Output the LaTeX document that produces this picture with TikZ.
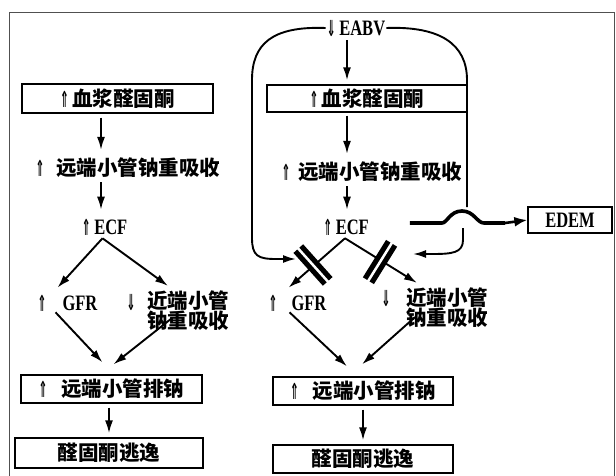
\documentclass[tikz,border=0pt]{standalone}
\usepackage{fontspec}
\setmainfont{Liberation Serif}
\newfontfamily\cjk{Noto Sans CJK SC}
\newfontfamily\symf{DejaVu Sans}
\usetikzlibrary{positioning, arrows.meta, calc}
\definecolor{framegray}{RGB}{80,80,80}
\newcommand{\upar}{\raisebox{-1pt}{\scalebox{0.62}[1.3]{\symf\bfseries\fontsize{17}{17}\selectfont ⇑}}}
\newcommand{\dnar}{\raisebox{-1pt}{\scalebox{0.62}[1.3]{\symf\bfseries\fontsize{17}{17}\selectfont ⇓}}}
\newcommand{\narrow}[1]{\scalebox{0.75}[1]{#1}}

\begin{document}
\begin{tikzpicture}[x=1pt, y=-1pt,
    lat/.style={font=\fontsize{22}{22}\selectfont\bfseries, inner sep=1pt},
    zh/.style={font=\cjk\fontsize{20.5}{20}\selectfont\bfseries, inner sep=1pt},
    box/.style={draw, line width=1.3pt, inner sep=0pt},
    arr/.style={-{Latex[length=13pt,width=8pt]}, line width=1.9pt},
    bar/.style={line width=13pt},
  ]
    \useasboundingbox (0,0) rectangle (616,476);
    \draw[framegray, line width=0.6pt] (9,476) -- (9,12) -- (614.5,12) -- (614.5,476);

    % left: no EABV loop
    \node[box, zh, minimum width=191pt, minimum height=29pt] (lald) at (117.5,98.5) {\upar\,血浆醛固酮};
    \node[zh] (lreab) at (128,168) {\upar\hspace{12pt}远端小管钠重吸收};
    \node[lat] (lecf) at (104.5,227) {\upar\,\narrow{ECF}};
    \node[lat] (lgfr) at (67.5,303) {\upar\hspace{16pt}\narrow{GFR}};
    \node[lat] (ldn) at (131,302) {\dnar};
    \node[zh, align=left, anchor=west] (lprox) at (146,311) {近端小管\\钠重吸收};
    \node[box, zh, minimum width=181pt, minimum height=28pt] (lexc) at (111.5,389) {\upar\hspace{14pt}远端小管排钠};
    \node[box, zh, minimum width=188pt, minimum height=30pt] (lesc) at (109,453) {醛固酮逃逸};
    \coordinate (lx) at (101,0);

    \draw[arr, shorten <=4pt, shorten >=7pt] (lald.south -| lx) -- (lreab.north -| lx);
    \draw[arr, shorten <=3pt, shorten >=8pt] (lreab.south -| lx) -- (lecf.north -| lx);
    \draw[arr] ($(lecf.south)+(-2,2)$) -- ($(lgfr.north)+(-10,-6)$);
    \draw[arr] ($(lecf.south)+(-2,2)$) -- ($(lprox.north west)+(22,-4)$);
    \draw[arr] ($(lgfr.south)+(-12,0)$) -- ($(lexc.north)+(-9,-12)$);
    \draw[arr] ($(lprox.south west)+(26,-14)$) -- ($(lexc.north)+(2,-10)$);
    \draw[arr, shorten <=4pt, shorten >=4pt] (lexc.south -| lesc) -- (lesc.north);

    % right: with EABV loop
    \node[lat] (eabv) at (356,28) {\dnar\,\narrow{EABV}};
    \node[box, zh, minimum width=200pt, minimum height=27pt] (rald) at (367,98.5) {\upar\,血浆醛固酮};
    \node[zh] (rreab) at (372,172) {\upar\hspace{8pt}远端小管钠重吸收};
    \node[lat] (recf) at (346,227) {\upar\,\narrow{ECF}};
    \node[lat] (rgfr) at (297.5,303) {\upar\hspace{14pt}\narrow{GFR}};
    \node[lat] (rdn) at (386,298) {\dnar};
    \node[zh, align=left, anchor=west] (rprox) at (405,308) {近端小管\\钠重吸收};
    \node[box, zh, minimum width=180pt, minimum height=28pt] (rexc) at (363,391) {\upar\hspace{14pt}远端小管排钠};
    \node[box, zh, minimum width=180pt, minimum height=28pt] (resc) at (363,459) {醛固酮逃逸};
    \node[box, lat, minimum width=84pt, minimum height=26pt] (edem) at (570,220) {\narrow{EDEM}};
    \coordinate (rx) at (347,0);

    \draw[arr, shorten <=3pt, shorten >=4pt] (eabv.south -| rx) -- (rald.north -| rx);
    \draw[arr, shorten <=3pt, shorten >=7pt] (rald.south -| rx) -- (rreab.north -| rx);
    \draw[arr, shorten <=3pt, shorten >=8pt] (rreab.south -| rx) -- (recf.north -| rx);
    \draw[arr] ($(recf.south)+(-1,2)$) -- ($(rgfr.north)+(-9,-6)$);
    \draw[arr] ($(recf.south)+(-1,2)$) -- ($(rprox.north west)+(12,-4)$);
    \draw[arr] ($(rgfr.south)+(-8,0)$) -- ($(rexc.north)+(-16,-10)$);
    \draw[arr] ($(rprox.south west)+(10,-12)$) -- ($(rexc.north)+(-1,-12)$);
    \draw[arr, shorten <=4pt, shorten >=4pt] (rexc.south) -- (resc.north);

    % loop round the right side
    \coordinate (loopL) at (296,259);
    \coordinate (loopR) at (413,254);
    \coordinate (under) at (463,228);
    \draw[line width=1.9pt] (eabv.west) .. controls (272,26) and (252,44) .. (252,80) -- (252,238)
        .. controls (252,256) and (258,259) .. (276,259);
    \draw[arr] (276,259) -- (loopL);
    \draw[line width=1.9pt] (eabv.east) .. controls (440,26) and (467,44) .. (467,80) -- (467,207);
    \draw[line width=1.9pt] (under) -- (463,240) .. controls (463,253) and (452,254) .. (432,254);
    \draw[arr] (432,254) -- (loopR);
    \draw[line width=3.6pt] ($(recf.east)+(40,-4)$) -- (442,223) .. controls (447,223) and (450,211) .. (462,211)
        .. controls (474,211) and (477,223) .. (484,223) -- (505,223);
    \draw[-{Latex[length=13pt,width=10pt]}, line width=2.6pt] (505,223) -- (edem.west);

    % blocked paths
    \draw[bar] (298.3,248.6) -- (327.7,281.4);
    \draw[white, line width=2.5pt] (297,247.2) -- (329,282.8);
    \draw[bar] (391.6,243.3) -- (368.4,280.7);
    \draw[white, line width=2.5pt] (392.7,241.6) -- (367.3,282.4);
\end{tikzpicture}
\end{document}
